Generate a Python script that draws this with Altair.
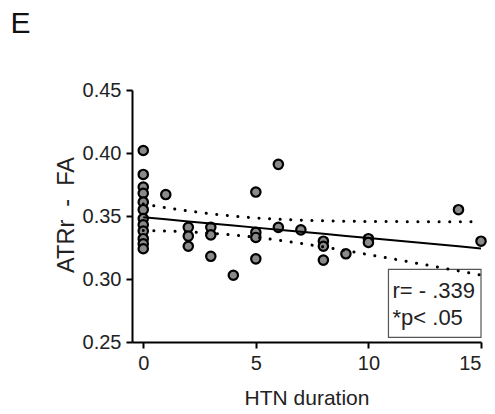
import numpy as np
import pandas as pd
import altair as alt

# ---- data ----
htn_years = [0] * 12 + [1] + [2] * 3 + [3] * 3 + [4] + [5] * 4 + [6] * 2 + [7] + [8] * 3 + [9] + [10] * 2 + [14] + [15]
atrr_fa = [0.402, 0.383, 0.373, 0.368, 0.361, 0.355, 0.348, 0.343, 0.338, 0.332, 0.328, 0.324,
           0.367,
           0.341, 0.334, 0.326,
           0.341, 0.335, 0.318,
           0.303,
           0.369, 0.337, 0.333, 0.316,
           0.391, 0.341,
           0.339,
           0.330, 0.326, 0.315,
           0.320,
           0.332, 0.329,
           0.355,
           0.330]

y_ticks = [0.25, 0.30, 0.35, 0.40, 0.45]
x_ticks = [0, 5, 10, 15]
stat_lines = ["r= - .339", "*p< .05"]
panel_label = "E"
y_title = "ATRr\u00a0\u00a0-\u00a0\u00a0FA"
x_title = "HTN duration"

# ---- linear fit and 95% confidence band, derived from the points ----
xa = np.array(htn_years, dtype=float)
ya = np.array(atrr_fa, dtype=float)
n = len(xa)
slope, intercept = np.polyfit(xa, ya, 1)
resid = ya - (intercept + slope * xa)
s = np.sqrt((resid ** 2).sum() / (n - 2))
xbar = xa.mean()
sxx = ((xa - xbar) ** 2).sum()
t975 = 2.035  # Student t, 0.975 quantile, df = n - 2 = 33
xs = np.unique(xa)
fit = intercept + slope * xs
half = t975 * s * np.sqrt(1.0 / n + (xs - xbar) ** 2 / sxx)

pts = pd.DataFrame({"x": htn_years, "y": atrr_fa})
fit_df = pd.DataFrame({"x": xs, "fit": fit, "lo": fit - half, "hi": fit + half})

FONT = "Liberation Sans"
xscale = alt.Scale(domain=[-0.5, 15], nice=False, zero=False)
yscale = alt.Scale(domain=[0.25, 0.45], nice=False, zero=False)

points = alt.Chart(pts).mark_circle(
    size=88, color="#8a8a8a", stroke="black", strokeWidth=2.2, opacity=1
).encode(
    x=alt.X("x:Q", scale=xscale, axis=alt.Axis(
        values=x_ticks, title=x_title, format="d",
        titleFontSize=21, titleFontWeight="normal", titleColor="#222",
        titleBaseline="alphabetic", titleY=62,
    )),
    y=alt.Y("y:Q", scale=yscale, axis=alt.Axis(
        values=y_ticks, title=y_title, format=".2f",
        titleFontSize=23.5, titleFontWeight="normal", titleColor="#222",
        titleX=-59, titleY=124.5, titleBaseline="alphabetic", titleAngle=270,
    )),
)

box_df = pd.DataFrame({"x": [10.89], "x2": [15.0], "y": [0.2537], "y2": [0.3077]})
box = alt.Chart(box_df).mark_rect(fill="white", stroke="#555", strokeWidth=1.2).encode(
    x="x:Q", x2="x2:Q", y="y:Q", y2="y2:Q"
)

txt_df = pd.DataFrame({"x": [11.07, 11.07], "y": [0.2850, 0.2635], "t": stat_lines})
txt = alt.Chart(txt_df).mark_text(
    align="left", baseline="alphabetic", fontSize=22, font=FONT, color="#222"
).encode(x="x:Q", y="y:Q", text="t:N")

fit_line = alt.Chart(fit_df).mark_line(color="black", strokeWidth=2).encode(x="x:Q", y="fit:Q")
hi_line = alt.Chart(fit_df).mark_line(
    color="black", strokeWidth=3, strokeDash=[0.1, 10.5], strokeCap="round", interpolate="monotone"
).encode(x="x:Q", y="hi:Q")
lo_line = alt.Chart(fit_df).mark_line(
    color="black", strokeWidth=3, strokeDash=[0.1, 10.5], strokeCap="round", interpolate="monotone"
).encode(x="x:Q", y="lo:Q")

lab = alt.Chart(pd.DataFrame({"t": [panel_label]})).mark_text(
    align="left", baseline="alphabetic", fontSize=30, font=FONT, color="#111"
).encode(x=alt.value(-121.5), y=alt.value(-56.7), text="t:N")

chart = alt.layer(points, box, txt, fit_line, hi_line, lo_line, lab).properties(
    width=349, height=252,
    autosize=alt.AutoSizeParams(type="none"),
    padding={"left": 124, "top": 82, "right": 6, "bottom": 63},
).configure(font=FONT).configure_view(stroke=None).configure_axis(
    grid=False, domainColor="black", domainWidth=2, tickColor="black", tickWidth=2,
    tickSize=6, labelFontSize=20, labelColor="#222", labelFont=FONT, titleFont=FONT,
    labelPadding=5,
)

chart.save("out.html", embed_options={"renderer": "svg", "actions": False})
